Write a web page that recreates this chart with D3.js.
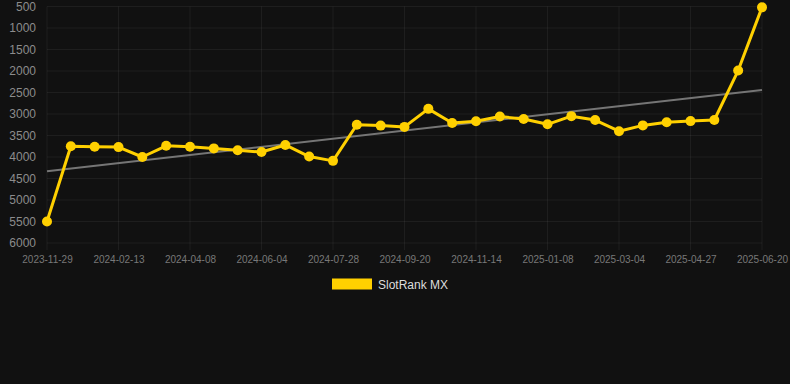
<!DOCTYPE html>
<html>
<head>
<meta charset="utf-8">
<script src="https://cdn.jsdelivr.net/npm/d3@7"></script>
<style>
  html, body { margin: 0; padding: 0; background: #111111; }
  svg { display: block; }
</style>
</head>
<body>
<svg id="chart" width="790" height="384"></svg>
<script>
// ---- data ----
const seriesName = "SlotRank MX";
// tick labels shown on the x axis (every 3rd data point)
const tickLabels = ["2023-11-29","2024-02-13","2024-04-08","2024-06-04","2024-07-28",
  "2024-09-20","2024-11-14","2025-01-08","2025-03-04","2025-04-27","2025-06-20"];
const tickEvery = 3;
// rank values per observation (lower = better; axis is inverted)
const values = [5500, 3750, 3760, 3770, 4000, 3740, 3760, 3800, 3845, 3885, 3720,
  3990, 4090, 3250, 3270, 3300, 2880, 3210, 3170, 3060, 3115,
  3240, 3050, 3140, 3400, 3265, 3190, 3165, 3140, 1990, 520];
const yTicks = [500, 1000, 1500, 2000, 2500, 3000, 3500, 4000, 4500, 5000, 5500, 6000];

// ---- layout ----
(function () {
const svg = d3.select("#chart");
const pLeft = 47, pRight = 762, pTop = 6.5, pBottom = 243;
const idx = values.map((_, i) => i);

const x = d3.scalePoint().domain(idx).range([pLeft, pRight]);
const y = d3.scaleLinear().domain([500, 6000]).range([pTop, pBottom]);

svg.append("rect").attr("width", 790).attr("height", 384).attr("fill", "#111111");

// grid
const gridColor = "rgba(255,255,255,0.055)";
svg.append("g").selectAll("line").data(yTicks).join("line")
  .attr("x1", pLeft).attr("x2", pRight)
  .attr("y1", d => y(d)).attr("y2", d => y(d))
  .attr("stroke", gridColor).attr("stroke-width", 1);

const tickIdx = tickLabels.map((_, k) => k * tickEvery);
svg.append("g").selectAll("line").data(tickIdx).join("line")
  .attr("x1", d => x(d)).attr("x2", d => x(d))
  .attr("y1", pTop).attr("y2", pBottom + 7)
  .attr("stroke", gridColor).attr("stroke-width", 1);

// y axis labels
const yAxis = d3.axisLeft(y).tickValues(yTicks).tickSize(0).tickPadding(0).tickFormat(d3.format("d"));
const gy = svg.append("g").attr("transform", `translate(36,0)`).call(yAxis);
gy.select(".domain").remove();
gy.selectAll("text").attr("fill", "#8c8c8c").style("font-family", "Liberation Sans, Arial, sans-serif").style("font-size", "12px");

// x axis labels
const xAxis = d3.axisBottom(x).tickValues(tickIdx).tickSize(0).tickPadding(0)
  .tickFormat(d => tickLabels[d / tickEvery]);
const gx = svg.append("g").attr("transform", `translate(0,256)`).call(xAxis);
gx.select(".domain").remove();
gx.selectAll("text").attr("fill", "#787878").style("font-family", "Liberation Sans, Arial, sans-serif").style("font-size", "10px");

// trend line (least-squares regression of the series)
const n = values.length;
const mx = d3.mean(idx), my = d3.mean(values);
const slope = d3.sum(idx, i => (i - mx) * (values[i] - my)) / d3.sum(idx, i => (i - mx) ** 2);
const intercept = my - slope * mx;
svg.append("line")
  .attr("x1", x(0)).attr("y1", y(intercept))
  .attr("x2", x(n - 1)).attr("y2", y(intercept + slope * (n - 1)))
  .attr("stroke", "#757575").attr("stroke-width", 2);

// series line
const color = "#ffd000";
svg.append("path").datum(idx)
  .attr("d", d3.line().x(i => x(i)).y(i => y(values[i])))
  .attr("fill", "none").attr("stroke", color).attr("stroke-width", 3)
  .attr("stroke-linejoin", "round");

svg.append("g").selectAll("circle").data(idx).join("circle")
  .attr("cx", i => x(i)).attr("cy", i => y(values[i])).attr("r", 5)
  .attr("fill", color);

// legend
svg.append("rect").attr("x", 332).attr("y", 278.5).attr("width", 40).attr("height", 11).attr("fill", color);
svg.append("text").attr("x", 378).attr("y", 288.5).text(seriesName)
  .attr("fill", "#dddddd").style("font-family", "Liberation Sans, Arial, sans-serif").style("font-size", "12px");
})();
</script>
</body>
</html>
